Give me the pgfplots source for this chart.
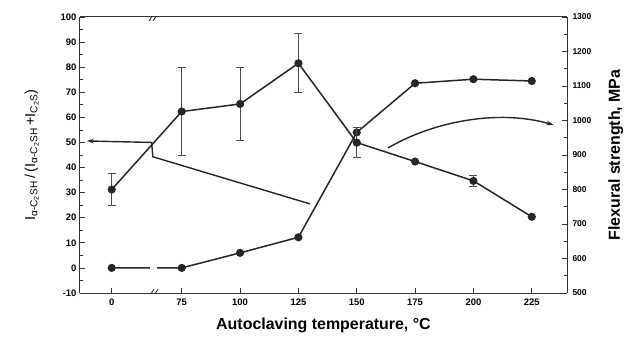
\documentclass[border=0pt]{standalone}
\usepackage{fontspec}
\setmainfont{Liberation Sans}
\usepackage{pgfplots}
\pgfplotsset{compat=1.18}
\usetikzlibrary{arrows.meta}

\pgfplotstableread{
x y
45 0
75 0
100 6
125 12.2
150 54
175 73.6
200 75.2
225 74.5
}\ratio

\pgfplotstableread{
x y e
45 800 46
75 1026 127
100 1048 105
125 1166 85
150 936 44
175 881 0
200 825 15
225 721 0
}\flex

\begin{document}
\begin{tikzpicture}
\pgfplotsset{
  common/.style={
    scale only axis, width=487bp, height=276bp,
    xmin=31.4, xmax=240.1,
    axis line style={black!80, line width=1bp},
    tick style={black!80, line width=0.8bp},
    major tick length=5bp, minor tick length=3bp,
    tick label style={font=\fontsize{9.5}{10}\selectfont\bfseries},
    /pgf/number format/assume math mode=true,
    /pgf/number format/1000 sep={},
  },
}
\begin{axis}[common,
  axis y line*=left,
  ymin=-10, ymax=100,
  ytick={-10,0,...,100}, minor y tick num=1,
  xtick={45,75,100,125,150,175,200,225},
  xticklabels={0,75,100,125,150,175,200,225},
  xtick pos=left,
  xticklabel style={yshift=-2bp},
  xlabel={Autoclaving temperature, \textdegree C},
  xlabel style={font=\fontsize{16}{18}\selectfont\bfseries},
  xlabel shift=6bp,
  ylabel={I\textsubscript{α-C\textsubscript{2}SH}\,/\,(I\textsubscript{α-C\textsubscript{2}SH}\,+I\textsubscript{C\textsubscript{2}S})},
  ylabel style={font=\fontsize{14.5}{16}\selectfont},
  ylabel shift=15bp,
]
\coordinate (bl) at (rel axis cs:0,0);
\coordinate (tr) at (rel axis cs:1,1);
\addplot[black!85, line width=1.5bp, mark=*, mark size=3.3bp, mark options={fill=black!85}] table[x=x,y=y] {\ratio};
\fill[white] (axis cs:61.2,-2) rectangle (axis cs:64.2,2);
% annotation leaders
\draw[black!85, line width=1.4bp, -{Stealth[length=7bp,width=4.5bp]}]
  (axis cs:130,25.5) -- (axis cs:62.6,44.3) -- (axis cs:62.1,50.0) -- (axis cs:34.3,50.6);
\draw[black!85, line width=1.4bp, -{Stealth[length=7bp,width=4.5bp]}]
  (axis cs:163.4,47.8) .. controls (axis cs:182,58) and (axis cs:210,63.5) .. (axis cs:234.3,57);
% axis breaks
\draw[black!80, line width=0.9bp] ([xshift=-4bp,yshift=-4bp]axis cs:62.7,-10) -- ++(5bp,8bp)
  ([xshift=0bp,yshift=-4bp]axis cs:62.7,-10) -- ++(5bp,8bp);
\draw[black!80, line width=0.9bp] ([xshift=-4bp,yshift=-4bp]axis cs:62.7,100) -- ++(5bp,8bp)
  ([xshift=0bp,yshift=-4bp]axis cs:62.7,100) -- ++(5bp,8bp);
\end{axis}
\begin{axis}[common,
  axis y line*=right, axis x line=none,
  ymin=500, ymax=1300,
  ytick={500,600,...,1300}, minor y tick num=1,
  yticklabel style={font=\fontsize{8.5}{10}\selectfont\bfseries, xshift=2bp},
  ylabel={Flexural strength, MPa},
  ylabel style={font=\fontsize{16}{18}\selectfont\bfseries},
  ylabel shift=10bp,
]
\addplot[black!85, line width=1.5bp, mark=*, mark size=3.3bp, mark options={fill=black!85},
  error bars/.cd, y dir=both, y explicit,
  error mark=-,
  error bar style={line width=1bp, black!70},
  error mark options={rotate=90, line width=1bp, mark size=4bp, black!70}]
  table[x=x,y=y,y error=e] {\flex};
\end{axis}
\pgfresetboundingbox
\path ([xshift=-80bp,yshift=-44bp]bl) rectangle ([xshift=71bp,yshift=17bp]tr);
\end{tikzpicture}
\end{document}
